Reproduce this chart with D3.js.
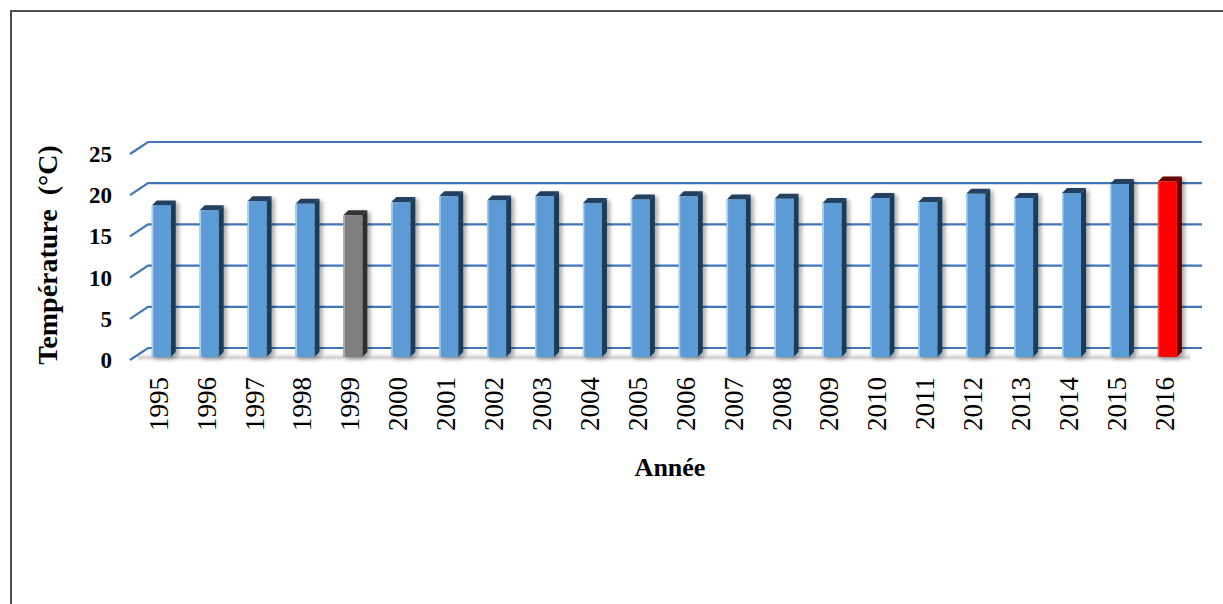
<!DOCTYPE html>
<html>
<head>
<meta charset="utf-8">
<script src="https://cdn.jsdelivr.net/npm/d3@7"></script>
<style>
  html, body { margin: 0; padding: 0; background: #fff; }
  svg { display: block; }
</style>
</head>
<body>
<svg id="chart" width="1223" height="604"></svg>
<script>
const years = ["1995","1996","1997","1998","1999","2000","2001","2002","2003","2004","2005","2006","2007","2008","2009","2010","2011","2012","2013","2014","2015","2016"];
const temperatures = [18.4,17.8,18.9,18.6,17.2,18.8,19.5,19.0,19.5,18.7,19.1,19.5,19.1,19.2,18.7,19.3,18.8,19.8,19.3,19.9,21.0,21.3];
const yTicks = [0,5,10,15,20,25];
const yTitle = "Température  (°C)";
const xTitle = "Année";
const highlight = {"1999": "gray", "2016": "red"};

const svg = d3.select("#chart");
const palette = {
  blue:  {front: "#5b9bd5", edge: "#a9d0f5", side: "#1f3a56", top: "#23405e"},
  gray:  {front: "#7f7f7f", edge: "#b0b0b0", side: "#2e2e2e", top: "#353535"},
  red:   {front: "#ff0000", edge: "#ff4a4a", side: "#5a0000", top: "#6a0000"}
};

const wallLeft = 148, wallRight = 1202;
const depthDX = -18, depthDY = 12;
const y = d3.scaleLinear().domain([0, 25]).range([348, 142]);
const x = d3.scaleBand().domain(years).range([wallLeft, wallRight]).padding(0);

svg.append("rect").attr("x", 11).attr("y", 11).attr("width", 1230).attr("height", 620)
  .attr("fill", "none").attr("stroke", "#4d4d4d").attr("stroke-width", 2);

const defs = svg.append("defs");
const sh = defs.append("filter").attr("id", "shadow").attr("x", "-30%").attr("y", "-10%").attr("width", "180%").attr("height", "130%");
sh.append("feGaussianBlur").attr("in", "SourceAlpha").attr("stdDeviation", 2.2).attr("result", "b");
sh.append("feOffset").attr("in", "b").attr("dx", 3).attr("dy", 2).attr("result", "o");
sh.append("feComponentTransfer").attr("in", "o").attr("result", "o2")
  .append("feFuncA").attr("type", "linear").attr("slope", 0.35);
const m = sh.append("feMerge");
m.append("feMergeNode").attr("in", "o2");
m.append("feMergeNode").attr("in", "SourceGraphic");

const floorGrad = defs.append("linearGradient").attr("id", "floorGrad").attr("x1", 0).attr("y1", 0).attr("x2", 0).attr("y2", 1);
floorGrad.append("stop").attr("offset", "0%").attr("stop-color", "#ffffff").attr("stop-opacity", 0);
floorGrad.append("stop").attr("offset", "55%").attr("stop-color", "#b8b8b8").attr("stop-opacity", 0.7);
floorGrad.append("stop").attr("offset", "100%").attr("stop-color", "#ffffff").attr("stop-opacity", 0);

svg.append("rect").attr("x", 138).attr("y", 351).attr("width", 1052).attr("height", 12)
  .attr("fill", "url(#floorGrad)");

const grid = svg.append("g");
yTicks.forEach(t => {
  const yy = y(t);
  grid.append("path")
    .attr("d", `M${wallLeft + depthDX},${yy + depthDY}L${wallLeft},${yy}L${wallRight},${yy}`)
    .attr("fill", "none").attr("stroke", "#3f76b5").attr("stroke-width", 2.2);
});

svg.append("g").selectAll("text").data(yTicks).join("text")
  .attr("x", 112).attr("y", d => y(d) + depthDY)
  .attr("dy", "0.35em").attr("text-anchor", "end")
  .style("font-family", "'Liberation Serif', 'Times New Roman', serif")
  .style("font-weight", "bold").style("font-size", "23px").attr("fill", "#000")
  .text(d => d);

const barW = 19, capDX = 5, capDY = -5;
const barPlaneDY = 9;
const barShiftX = -10.7;
const yb = v => y(v) + barPlaneDY;
const bars = svg.append("g").attr("filter", "url(#shadow)");
years.forEach((yr, i) => {
  const v = temperatures[i];
  const c = palette[highlight[yr] || "blue"];
  const x0 = x(yr) + (x.bandwidth() - barW) / 2 + barShiftX;
  const x1 = x0 + barW;
  const top = yb(v), bot = yb(0);
  const g = bars.append("g");
  g.append("path").attr("d", `M${x1},${top}L${x1 + capDX},${top + capDY}L${x1 + capDX},${bot + capDY}L${x1},${bot}Z`).attr("fill", c.side);
  g.append("path").attr("d", `M${x0},${top}L${x0 + capDX},${top + capDY}L${x1 + capDX},${top + capDY}L${x1},${top}Z`).attr("fill", c.top);
  g.append("rect").attr("x", x0).attr("y", top).attr("width", barW).attr("height", bot - top).attr("fill", c.front);
  g.append("rect").attr("x", x0).attr("y", top).attr("width", 1.5).attr("height", bot - top).attr("fill", c.edge);
});

svg.append("g").selectAll("text").data(years).join("text")
  .attr("transform", d => `translate(${x(d) + x.bandwidth() / 2 + barShiftX - 3},${377}) rotate(-90)`)
  .attr("text-anchor", "end").attr("dy", "0.35em")
  .style("font-family", "'Liberation Serif', 'Times New Roman', serif")
  .style("font-size", "27px").attr("fill", "#000")
  .text(d => d);

svg.append("text")
  .attr("transform", `translate(${57},${255}) rotate(-90)`)
  .attr("text-anchor", "middle")
  .style("font-family", "'Liberation Serif', 'Times New Roman', serif")
  .style("font-weight", "bold").style("font-size", "28px").style("white-space", "pre").attr("xml:space", "preserve")
  .text(yTitle);

svg.append("text")
  .attr("x", 670).attr("y", 476).attr("text-anchor", "middle")
  .style("font-family", "'Liberation Serif', 'Times New Roman', serif")
  .style("font-weight", "bold").style("font-size", "26px")
  .text(xTitle);
</script>
</body>
</html>
